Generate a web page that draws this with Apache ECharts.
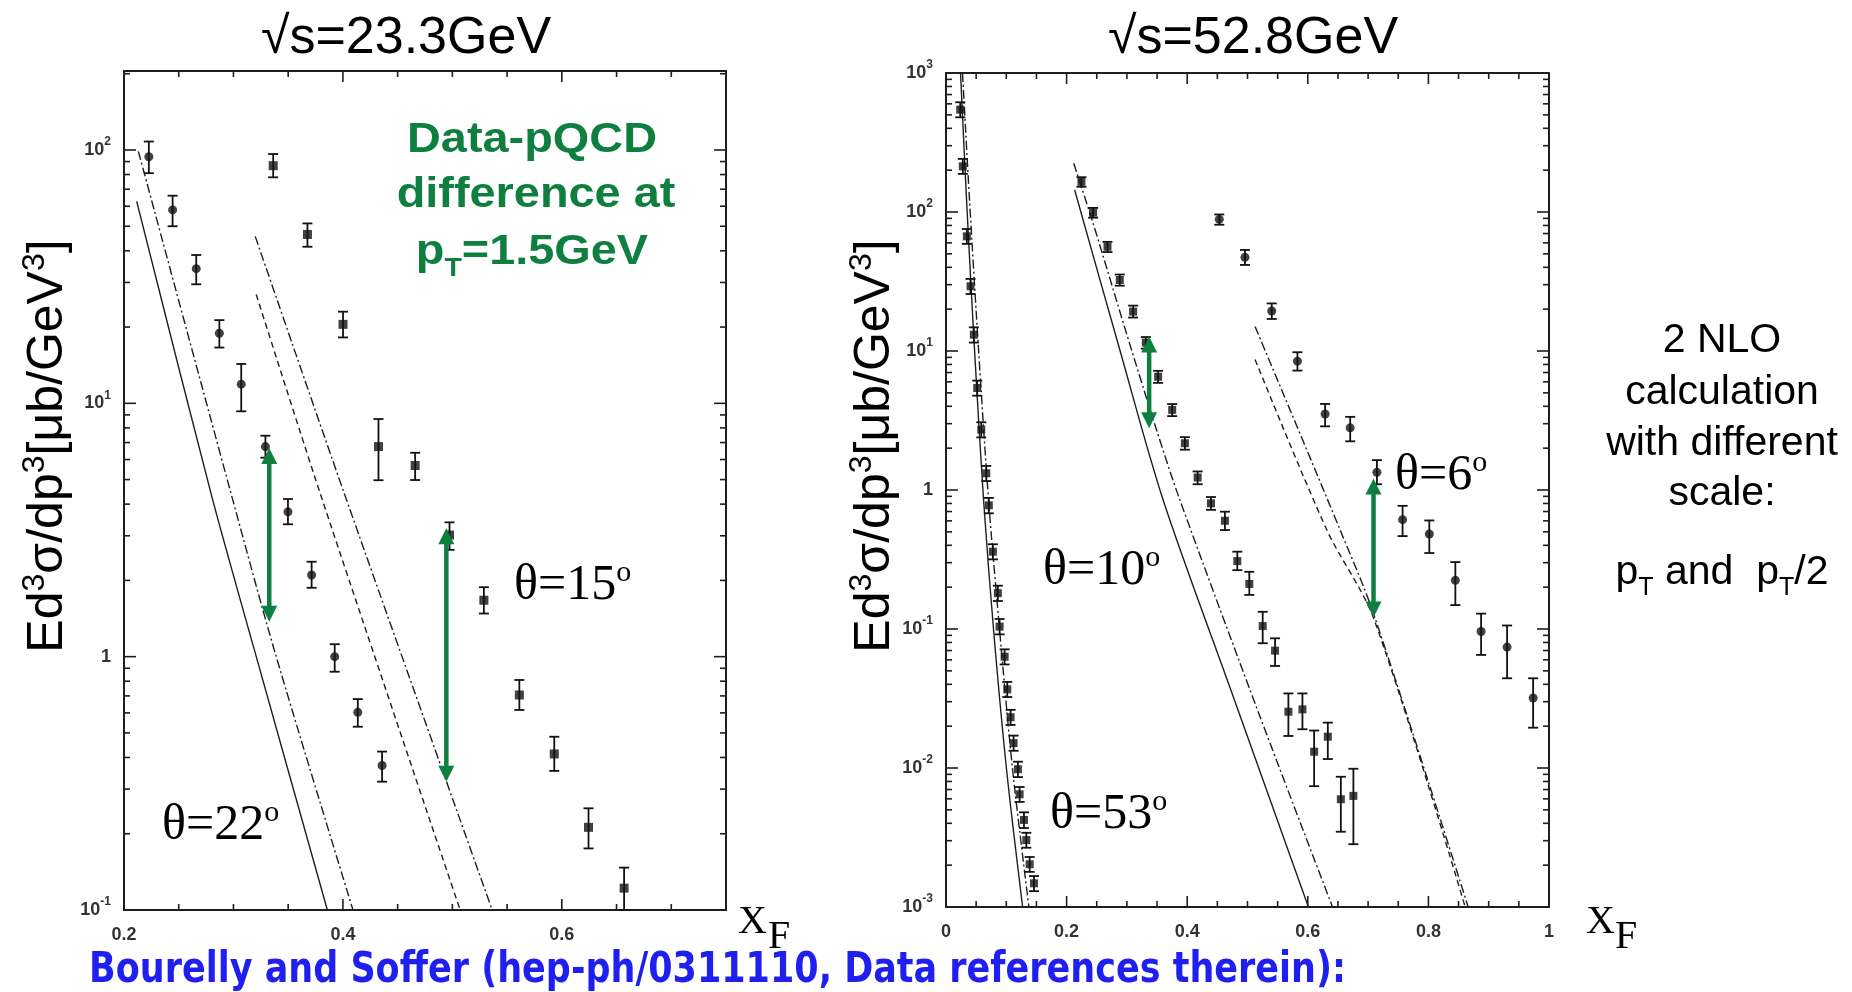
<!DOCTYPE html>
<html>
<head>
<meta charset="utf-8">
<title>Ed3sigma/dp3 versus xF</title>
<script src="https://cdn.jsdelivr.net/npm/echarts@6/dist/echarts.min.js"></script>
<style>
html, body { margin: 0; padding: 0; background: #fff; }
#chart { width: 1852px; height: 992px; }
</style>
</head>
<body>
<div id="chart"></div>
<script>
// ---- sqrt(s) = 23.3 GeV (left panel) ----
var x22 = [0.2227, 0.2444, 0.2660, 0.2871, 0.3071, 0.3292, 0.3498, 0.3714, 0.3925, 0.4136, 0.4358];
var y22 = [94, 58, 34, 18.9, 11.9, 6.75, 3.73, 2.10, 1.0, 0.603, 0.372];
var lo22 = [81, 50, 29.5, 16.6, 9.3, 6.1, 3.33, 1.87, 0.872, 0.529, 0.321];
var hi22 = [108, 66, 38.5, 21.3, 14.3, 7.45, 4.19, 2.37, 1.12, 0.68, 0.422];

var x15 = [0.3363, 0.3676, 0.4001, 0.4325, 0.4660, 0.4974, 0.5288, 0.5612, 0.5931, 0.6244, 0.6569];
var y15 = [86.7, 46.4, 20.5, 6.75, 5.68, 3.02, 1.67, 0.706, 0.413, 0.212, 0.122];
var lo15 = [78, 41.5, 18.2, 4.97, 4.98, 2.64, 1.48, 0.616, 0.354, 0.175, 0.1];
var hi15 = [96.4, 51.3, 23.0, 8.67, 6.38, 3.39, 1.88, 0.809, 0.483, 0.252, 0.147];

// NLO curves, scale pT (a) and pT/2 (b)
var nlo22a = [[0.2116, 62.7], [0.2796, 4.39], [0.3184, 1.09], [0.3858, 0.1]];
var nlo22b = [[0.2131, 98.8], [0.2979, 4.39], [0.3382, 1.03], [0.4092, 0.1]];
var nlo15a = [[0.3208, 26.9], [0.3794, 4.39], [0.5071, 0.1]];
var nlo15b = [[0.3199, 45.6], [0.4014, 4.39], [0.5364, 0.1]];

// data - pQCD arrows: [xF, top, bottom]
var arrowsL = [[0.3327, 6.66, 1.374], [0.4945, 3.21, 0.321]];

// ---- sqrt(s) = 52.8 GeV (right panel) ----
var x53 = [0.0236, 0.0279, 0.0346, 0.0407, 0.0462, 0.0518, 0.0585, 0.0668, 0.0710, 0.0777, 0.0860,
           0.0889, 0.0972, 0.1016, 0.1071, 0.1121, 0.1193, 0.1221, 0.1293, 0.1332, 0.1387, 0.1459];
var y53 = [545, 213, 66.8, 29.2, 13.1, 5.42, 2.72, 1.32, 0.776, 0.36, 0.181,
           0.104, 0.0632, 0.0368, 0.0232, 0.0151, 0.0098, 0.00647, 0.00423, 0.00303, 0.00203, 0.00148];
var lo53 = [480, 188, 59, 25.7, 11.5, 4.77, 2.39, 1.16, 0.68, 0.317, 0.159,
            0.0915, 0.0556, 0.0324, 0.0204, 0.0133, 0.0086, 0.0057, 0.0037, 0.00267, 0.00179, 0.0013];
var hi53 = [616, 241, 75.5, 33, 14.8, 6.12, 3.07, 1.49, 0.877, 0.407, 0.205,
            0.118, 0.0714, 0.0416, 0.0262, 0.0171, 0.0111, 0.0073, 0.0048, 0.00342, 0.00229, 0.00167];

var x10 = [0.2246, 0.2439, 0.2678, 0.2882, 0.3103, 0.3314, 0.3518, 0.3751, 0.3962, 0.4173, 0.4394,
           0.4626, 0.4831, 0.5030, 0.5252, 0.5457, 0.5678, 0.5911, 0.6105, 0.6332, 0.6548, 0.6756];
var y10 = [165, 98.9, 56.2, 32.4, 19.2, 11.5, 6.53, 3.77, 2.17, 1.23, 0.802,
           0.601, 0.308, 0.211, 0.105, 0.0699, 0.0254, 0.0264, 0.0131, 0.0168, 0.00596, 0.0063];
var lo10 = [152, 91, 51.5, 29.5, 17.4, 10.4, 5.9, 3.4, 1.95, 1.1, 0.72,
            0.515, 0.265, 0.176, 0.079, 0.0542, 0.017, 0.019, 0.0074, 0.0116, 0.00348, 0.00283];
var hi10 = [178, 107, 61, 35.5, 21.2, 12.6, 7.2, 4.15, 2.4, 1.36, 0.89,
            0.698, 0.36, 0.258, 0.133, 0.0857, 0.0344, 0.0344, 0.0186, 0.0212, 0.00865, 0.00988];

var x6 = [0.4532, 0.4958, 0.5402, 0.5828, 0.6287, 0.6703, 0.7146, 0.7572, 0.8015, 0.8447, 0.8874, 0.9305, 0.9737];
var y6 = [88.5, 47.2, 19.4, 8.45, 3.52, 2.8, 1.34, 0.612, 0.482, 0.224, 0.096, 0.0741, 0.0319];
var lo6 = [81, 41.6, 17, 7.23, 2.87, 2.24, 1.1, 0.466, 0.352, 0.1486, 0.0651, 0.0442, 0.0195];
var hi6 = [96, 53.3, 22, 9.8, 4.16, 3.36, 1.64, 0.769, 0.604, 0.303, 0.129, 0.106, 0.0442];

var nlo53a = [[0.0241, 1000], [0.0341, 122], [0.0473, 10.2], [0.0623, 0.847], [0.0789, 0.0984], [0.1005, 0.00968], [0.1271, 0.001]];
var nlo53b = [[0.0274, 1000], [0.0390, 122], [0.0540, 10.2], [0.0706, 0.847], [0.0889, 0.0984], [0.1105, 0.00968], [0.1375, 0.001]];
var nlo10a = [[0.2134, 144], [0.2882, 10.2], [0.3601, 0.847], [0.4764, 0.0326], [0.6010, 0.001]];
var nlo10b = [[0.2118, 224], [0.2439, 83], [0.2993, 13.4], [0.3492, 2.7], [0.3879, 0.847], [0.5208, 0.0234], [0.6410, 0.001]];
var nlo6a = [[0.5125, 15.0], [0.6537, 0.515], [0.7090, 0.129], [0.8660, 0.001]];
var nlo6b = [[0.5125, 8.7], [0.6316, 0.515], [0.7090, 0.12], [0.8610, 0.001]];

var arrowsR = [[0.3369, 12.7, 2.78], [0.7090, 1.21, 0.121]];

// axis ranges
var LX = [0.2, 0.75], LY = [0.1, 205];
var RX = [0, 1], RY = [0.001, 1000];

var INK = '#1e1e1e';
var GREEN = '#0f7f3f';
var SANS = "'Liberation Sans', Arial, sans-serif";
var SERIF = "'Liberation Serif', 'Times New Roman', serif";
var DASH = [6, 4];
var DASHDOT = [9, 3, 2, 3];

function powLabel(v) {
    var e = Math.log(v) / Math.LN10;
    var r = Math.round(e);
    if (Math.abs(e - r) > 1e-6) return '';
    if (r === 0) return '{b|1}';
    return '{b|10}{e|' + r + '}';
}

function xAx(grid, pos, range, labels) {
    return {
        type: 'value', gridIndex: grid, position: pos, min: range[0], max: range[1], interval: 0.2,
        axisLine: { show: true, onZero: false, lineStyle: { color: INK, width: 2 } },
        axisTick: { show: false }, splitLine: { show: false },
        axisLabel: {
            show: labels, margin: 16, fontSize: 18, fontWeight: 'bold', fontFamily: SANS, color: '#333',
            formatter: function (v) {
                var k = v / 0.2;
                if (Math.abs(k - Math.round(k)) > 1e-6) return '';
                if (Math.abs(v) < 1e-9) return '0';
                if (Math.abs(v - 1) < 1e-9) return '1';
                return v.toFixed(1);
            }
        }
    };
}

function yAx(grid, pos, range, labels) {
    return {
        type: 'log', logBase: 10, gridIndex: grid, position: pos, min: range[0], max: range[1],
        axisLine: { show: true, onZero: false, lineStyle: { color: INK, width: 2 } },
        axisTick: { show: false }, splitLine: { show: false },
        axisLabel: {
            show: labels, margin: 13, formatter: powLabel,
            rich: {
                b: { fontSize: 18, fontWeight: 'bold', fontFamily: SANS, color: '#333', lineHeight: 28 },
                e: { fontSize: 12, fontWeight: 'bold', fontFamily: SANS, color: '#333', lineHeight: 14, verticalAlign: 'top' }
            }
        }
    };
}

// inward ticks on all four sides of a panel: [x, y, side (0 = x tick, 1 = y tick), length]
function frameTicks(xr, yr) {
    var list = [];
    var xm = (xr[0] + xr[1]) / 2, ym = Math.sqrt(yr[0] * yr[1]);
    var k0 = Math.round(xr[0] / 0.05), k1 = Math.round(xr[1] / 0.05);
    for (var k = k0 + 1; k < k1; k++) {
        list.push([k * 0.05, ym, 0, k % 4 === 0 ? 11 : 6]);
    }
    var e0 = Math.floor(Math.log10(yr[0])), e1 = Math.ceil(Math.log10(yr[1]));
    for (var e = e0; e <= e1; e++) {
        for (var m = 1; m < 10; m++) {
            var v = m * Math.pow(10, e);
            if (v > yr[0] * 1.0001 && v < yr[1] * 0.9999) list.push([xm, v, 1, m === 1 ? 12 : 6]);
        }
    }
    return list;
}

function tickSeries(xi, yi, xr, yr) {
    return {
        type: 'custom', xAxisIndex: xi, yAxisIndex: yi, silent: true, z: 20,
        data: frameTicks(xr, yr),
        renderItem: function (params, api) {
            var side = api.value(2), len = api.value(3);
            var a, b;
            if (side === 0) {
                a = api.coord([api.value(0), yr[0]]);
                b = api.coord([api.value(0), yr[1]]);
                return { type: 'group', children: [
                    { type: 'line', shape: { x1: a[0], y1: a[1], x2: a[0], y2: a[1] - len }, style: { stroke: INK, lineWidth: 1.6 } },
                    { type: 'line', shape: { x1: b[0], y1: b[1], x2: b[0], y2: b[1] + len }, style: { stroke: INK, lineWidth: 1.6 } }
                ] };
            }
            a = api.coord([xr[0], api.value(1)]);
            b = api.coord([xr[1], api.value(1)]);
            return { type: 'group', children: [
                { type: 'line', shape: { x1: a[0], y1: a[1], x2: a[0] + len, y2: a[1] }, style: { stroke: INK, lineWidth: 1.6 } },
                { type: 'line', shape: { x1: b[0], y1: b[1], x2: b[0] - len, y2: b[1] }, style: { stroke: INK, lineWidth: 1.6 } }
            ] };
        }
    };
}

function zip(xs, ys) {
    return xs.map(function (x, i) { return [x, ys[i]]; });
}

function points(xi, yi, xs, ys, shape, size) {
    return {
        type: 'scatter', xAxisIndex: xi, yAxisIndex: yi, symbol: shape, symbolSize: size, z: 6,
        itemStyle: { color: '#111' }, data: zip(xs, ys)
    };
}

function errorBars(xi, yi, xs, lo, hi) {
    return {
        type: 'custom', xAxisIndex: xi, yAxisIndex: yi, silent: true, z: 5,
        data: xs.map(function (x, i) { return [x, lo[i], hi[i]]; }),
        renderItem: function (params, api) {
            var a = api.coord([api.value(0), api.value(1)]);
            var b = api.coord([api.value(0), api.value(2)]);
            var w = 5;
            return { type: 'group', children: [
                { type: 'line', shape: { x1: a[0], y1: a[1], x2: b[0], y2: b[1] }, style: { stroke: '#111', lineWidth: 1.8 } },
                { type: 'line', shape: { x1: a[0] - w, y1: a[1], x2: a[0] + w, y2: a[1] }, style: { stroke: '#111', lineWidth: 1.8 } },
                { type: 'line', shape: { x1: b[0] - w, y1: b[1], x2: b[0] + w, y2: b[1] }, style: { stroke: '#111', lineWidth: 1.8 } }
            ] };
        }
    };
}

function curve(xi, yi, pts, dash) {
    return {
        type: 'line', xAxisIndex: xi, yAxisIndex: yi, data: pts, showSymbol: false, silent: true, z: 3,
        smooth: 0.3, lineStyle: { color: INK, width: 1.4, type: dash }
    };
}

function arrows(xi, yi, list) {
    return {
        type: 'custom', xAxisIndex: xi, yAxisIndex: yi, silent: true, z: 8,
        data: list,
        renderItem: function (params, api) {
            var a = api.coord([api.value(0), api.value(1)]);
            var b = api.coord([api.value(0), api.value(2)]);
            var hw = 8, hl = 16;
            return { type: 'group', children: [
                { type: 'line', shape: { x1: a[0], y1: a[1] + hl - 2, x2: b[0], y2: b[1] - hl + 2 }, style: { stroke: GREEN, lineWidth: 4.5 } },
                { type: 'polygon', shape: { points: [[a[0], a[1]], [a[0] - hw, a[1] + hl], [a[0] + hw, a[1] + hl]] }, style: { fill: GREEN } },
                { type: 'polygon', shape: { points: [[b[0], b[1]], [b[0] - hw, b[1] - hl], [b[0] + hw, b[1] - hl]] }, style: { fill: GREEN } }
            ] };
        }
    };
}

// ---- free text ----
function txt(x, y, text, style, extra) {
    var el = { type: 'text', x: x, y: y, z: 100, silent: true,
        style: Object.assign({ text: text, fill: INK, align: 'left', verticalAlign: 'middle' }, style) };
    return Object.assign(el, extra || {});
}

function rt(size, family, weight, color, lh, va) {
    var r = { fontSize: size, fontFamily: family, fontWeight: weight || 'normal', fill: color, color: color, lineHeight: lh };
    if (va) r.verticalAlign = va;
    return r;
}

function thetaLabel(x, y, angle) {
    return txt(x, y, '{t|\u03b8=' + angle + '}{o|o}', {
        rich: { t: rt(50, SERIF, 'normal', '#000', 56), o: rt(30, SERIF, 'normal', '#000', 30, 'top') }
    });
}

function yTitle(x, y) {
    return txt(x, y, '{t|Ed}{s|3}{t|\u03c3/dp}{s|3}{t|[\u03bcb/GeV}{s|3}{t|]}', {
        align: 'center',
        rich: { t: rt(50, SANS, 'normal', '#000', 58), s: rt(32, SANS, 'normal', '#000', 34, 'top') }
    }, { rotation: Math.PI / 2 });
}

var measureCtx = document.createElement('canvas').getContext('2d');
function fitScale(text, font, width) {
    measureCtx.font = font;
    return width / measureCtx.measureText(text).width;
}

var blueText = 'Bourelly and Soffer (hep-ph/0311110, Data references therein):';
var blueFont = "bold 42px 'DejaVu Sans', sans-serif";

var graphics = [
    txt(406, 39, '\u221as=23.3GeV', { fontSize: 52, fontFamily: SANS, fill: '#000', align: 'center' }),
    txt(1253, 39, '\u221as=52.8GeV', { fontSize: 52, fontFamily: SANS, fill: '#000', align: 'center' }),
    yTitle(48, 446),
    yTitle(875, 446),

    txt(532, 140, 'Data-pQCD', { fontSize: 43, fontWeight: 'bold', fontFamily: SANS, fill: GREEN, align: 'center' }, { scaleX: 1.09 }),
    txt(536, 195, 'difference at', { fontSize: 43, fontWeight: 'bold', fontFamily: SANS, fill: GREEN, align: 'center' }, { scaleX: 1.09 }),
    txt(532, 252, '{m|p}{s|T}{m|=1.5GeV}', {
        align: 'center',
        rich: { m: rt(43, SANS, 'bold', GREEN, 60), s: rt(26, SANS, 'bold', GREEN, 26, 'bottom') }
    }, { scaleX: 1.09 }),

    txt(1722, 341, '2 NLO', { fontSize: 41, fontFamily: SANS, fill: '#000', align: 'center' }),
    txt(1722, 393, 'calculation', { fontSize: 41, fontFamily: SANS, fill: '#000', align: 'center' }),
    txt(1722, 444, 'with different', { fontSize: 41, fontFamily: SANS, fill: '#000', align: 'center' }),
    txt(1722, 494, 'scale:', { fontSize: 41, fontFamily: SANS, fill: '#000', align: 'center' }),
    txt(1722, 573, '{m|p}{s|T}{m| and  p}{s|T}{m|/2}', {
        align: 'center',
        rich: { m: rt(41, SANS, 'normal', '#000', 56), s: rt(25, SANS, 'normal', '#000', 24, 'bottom') }
    }),

    thetaLabel(162, 826, 22),
    thetaLabel(514, 586, 15),
    thetaLabel(1043, 571, 10),
    thetaLabel(1050, 815, 53),
    thetaLabel(1395, 476, 6),

    txt(738, 922, 'X', { fontSize: 40, fontFamily: SERIF, fill: '#000' }),
    txt(768, 937, 'F', { fontSize: 40, fontFamily: SERIF, fill: '#000' }),
    txt(1586, 922, 'X', { fontSize: 40, fontFamily: SERIF, fill: '#000' }),
    txt(1615, 937, 'F', { fontSize: 40, fontFamily: SERIF, fill: '#000' }),

    txt(89, 971, blueText, { fontSize: 42, fontWeight: 'bold', fontFamily: "'DejaVu Sans', sans-serif", fill: '#1f1ff0' },
        { scaleX: fitScale(blueText, blueFont, 1257) })
];

var option = {
    animation: false,
    backgroundColor: '#fff',
    grid: [
        { left: 124, top: 71, width: 602, height: 839, containLabel: false, outerBoundsMode: 'none' },
        { left: 946, top: 73, width: 603, height: 834, containLabel: false, outerBoundsMode: 'none' }
    ],
    xAxis: [xAx(0, 'bottom', LX, true), xAx(0, 'top', LX, false), xAx(1, 'bottom', RX, true), xAx(1, 'top', RX, false)],
    yAxis: [yAx(0, 'left', LY, true), yAx(0, 'right', LY, false), yAx(1, 'left', RY, true), yAx(1, 'right', RY, false)],
    series: [
        curve(0, 0, nlo22a, 'solid'),
        curve(0, 0, nlo22b, DASHDOT),
        curve(0, 0, nlo15a, DASH),
        curve(0, 0, nlo15b, DASHDOT),
        errorBars(0, 0, x22, lo22, hi22),
        points(0, 0, x22, y22, 'circle', 9),
        errorBars(0, 0, x15, lo15, hi15),
        points(0, 0, x15, y15, 'rect', 9),
        arrows(0, 0, arrowsL),
        tickSeries(0, 0, LX, LY),

        curve(2, 2, nlo53a, 'solid'),
        curve(2, 2, nlo53b, DASHDOT),
        curve(2, 2, nlo10a, 'solid'),
        curve(2, 2, nlo10b, DASHDOT),
        curve(2, 2, nlo6a, DASHDOT),
        curve(2, 2, nlo6b, DASH),
        errorBars(2, 2, x53, lo53, hi53),
        points(2, 2, x53, y53, 'rect', 8),
        errorBars(2, 2, x10, lo10, hi10),
        points(2, 2, x10, y10, 'rect', 8),
        errorBars(2, 2, x6, lo6, hi6),
        points(2, 2, x6, y6, 'circle', 9),
        arrows(2, 2, arrowsR),
        tickSeries(2, 2, RX, RY)
    ],
    graphic: graphics
};

var chart = echarts.init(document.getElementById('chart'), null, { renderer: 'canvas' });
chart.setOption(option);
</script>
</body>
</html>
